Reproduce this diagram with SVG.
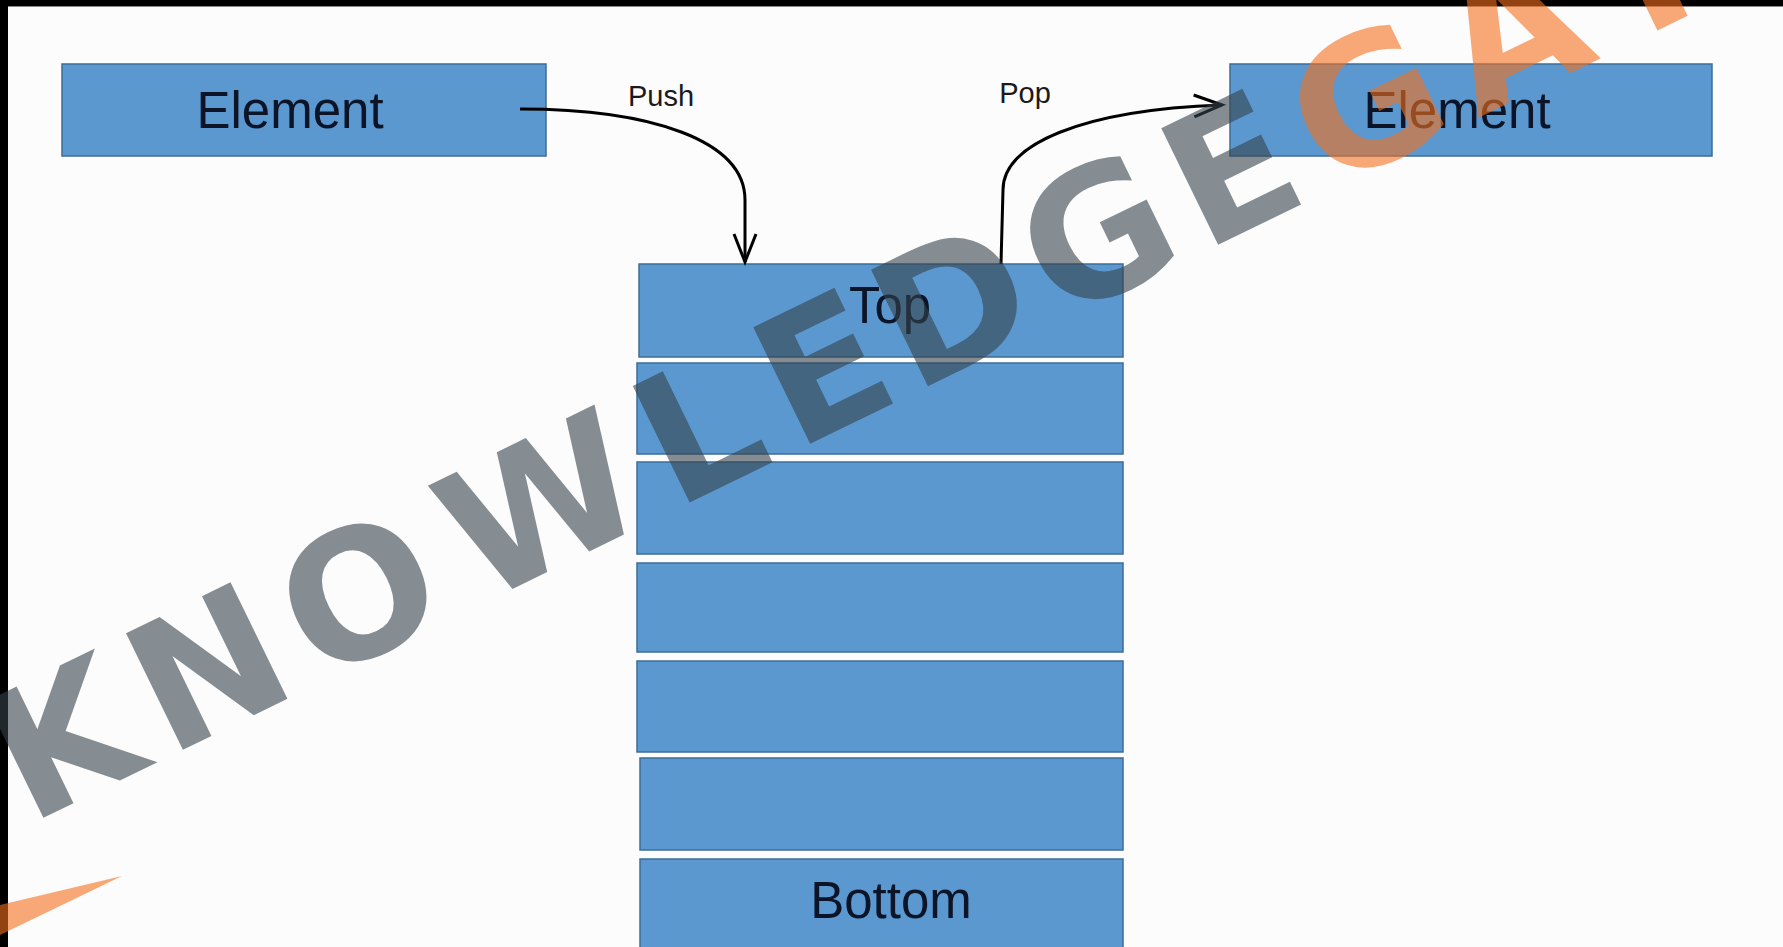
<svg xmlns="http://www.w3.org/2000/svg" width="1783" height="947" viewBox="0 0 1783 947">
  <style>
    .box { fill: #5b98d0; stroke: #3d6c96; stroke-width: 1.5; }
    .lbl { font-family: "Liberation Sans", Arial, sans-serif; font-size: 51px; fill: #0c1428; text-anchor: middle; }
    .small { font-family: "Liberation Sans", Arial, sans-serif; font-size: 29px; fill: #1a1a1a; text-anchor: middle; }
    .conn { fill: none; stroke: #000; stroke-width: 3; }
    .wm { font-family: "DejaVu Sans", "Liberation Sans", sans-serif; font-weight: bold; font-size: 178px; }
  </style>
  <defs>
    <marker id="open-arrow" markerUnits="userSpaceOnUse" markerWidth="40" markerHeight="30" viewBox="-32 -15 40 30" refX="0" refY="0" orient="auto">
      <path d="M-28,-11 L0,0 L-28,11" fill="none" stroke="#000" stroke-width="3"/>
    </marker>
  </defs>

  <rect x="0" y="0" width="1783" height="947" fill="#fcfcfc"/>

  <g id="element-in">
    <rect class="box" x="62" y="64" width="484" height="92"/>
    <text class="lbl" x="290" y="128">Element</text>
  </g>
  <g id="element-out">
    <rect class="box" x="1230" y="64" width="482" height="92"/>
    <text class="lbl" x="1457" y="128">Element</text>
  </g>

  <g id="stack">
    <g id="slot-top">
      <rect class="box" x="639" y="264" width="484" height="93"/>
      <text class="lbl" x="890" y="323">Top</text>
    </g>
    <g id="slot-2"><rect class="box" x="637" y="363" width="486" height="91"/></g>
    <g id="slot-3"><rect class="box" x="637" y="462" width="486" height="92"/></g>
    <g id="slot-4"><rect class="box" x="637" y="563" width="486" height="89"/></g>
    <g id="slot-5"><rect class="box" x="637" y="661" width="486" height="91"/></g>
    <g id="slot-6"><rect class="box" x="640" y="758" width="483" height="92"/></g>
    <g id="slot-bottom">
      <rect class="box" x="640" y="859" width="483" height="100"/>
      <text class="lbl" x="891" y="918">Bottom</text>
    </g>
  </g>

  <g id="connectors">
    <path class="conn" d="M520,109 C650,109 745,140 745,200 L745,262" marker-end="url(#open-arrow)"/>
    <text class="small" x="661" y="106">Push</text>
    <path class="conn" d="M1001,264 L1003,190 C1003,145 1080,110 1222,105" marker-end="url(#open-arrow)"/>
    <text class="small" x="1025" y="103">Pop</text>
  </g>

  <rect x="0" y="0" width="1783" height="6" fill="#000"/>
  <rect x="0" y="6" width="1783" height="1" fill="#888"/>
  <rect x="0" y="0" width="8" height="947" fill="#000"/>

  <g id="watermark">
    <text class="wm" transform="translate(45,817) rotate(-26)" x="0" y="0"><tspan fill="#36434b" fill-opacity="0.6" x="-18 137 304 484 701 835 966 1128 1289">KNOWLEDGE</tspan><tspan fill="#f4701d" fill-opacity="0.6" x="1428 1594 1750 1880">GATE</tspan></text>
    <polygon points="122,876 0,905 0,935" fill="#f4701d" fill-opacity="0.6"/>
  </g>
</svg>
